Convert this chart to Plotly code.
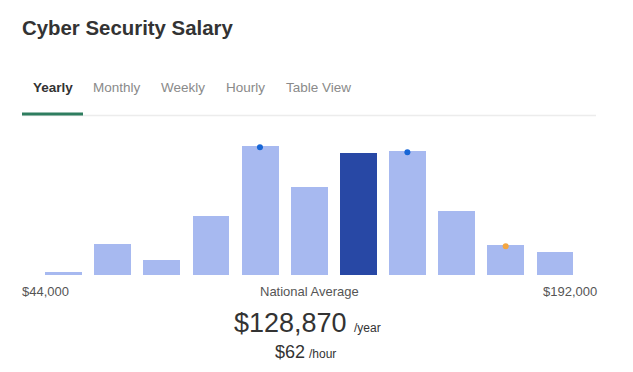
import plotly.graph_objects as go

# The page has an 8px body margin; figure sized to fit the remaining window
OFF = 8
W, H = 633 - 2 * OFF, 372 - 2 * OFF

# Data
bins = list(range(11))
counts = [3.3, 30.7, 14.7, 59, 129, 88.3, 121.7, 124, 63.7, 30, 23]
highlight_bin = 6
blue_dot_bins = [4, 7]
orange_dot_bins = [9]
min_label = "$44,000"
max_label = "$192,000"
avg_label = "National Average"
avg_year = "$128,870"
avg_hour = "$62"
tabs = ["Yearly", "Monthly", "Weekly", "Hourly", "Table View"]
tab_x = [33, 93, 161, 226, 286]

LIGHT = "#a7b9f0"
DARK = "#2848a5"
FONT = "Liberation Sans, Arial, sans-serif"

colors = [DARK if b == highlight_bin else LIGHT for b in bins]

fig = go.Figure()
fig.add_trace(go.Bar(x=bins, y=counts, marker=dict(color=colors, line=dict(width=0)),
                     width=0.75, hoverinfo="skip"))
fig.add_trace(go.Scatter(x=blue_dot_bins, y=[counts[b] - 1.2 for b in blue_dot_bins],
                         mode="markers", marker=dict(color="#1766d6", size=6),
                         hoverinfo="skip"))
fig.add_trace(go.Scatter(x=orange_dot_bins, y=[counts[b] - 1.2 for b in orange_dot_bins],
                         mode="markers", marker=dict(color="#f4a640", size=6),
                         hoverinfo="skip"))

def px(x):
    return (x - OFF) / W

def py(y):
    return 1 - (y - OFF) / H

x0, x1 = 38.8, 579.4
y_bottom, y_top = 275, 135
PAD = 2  # annotation inner padding

ann = []
ann.append(dict(x=px(22 - PAD), y=py(28), text="<b>Cyber Security Salary</b>", xanchor="left",
                yanchor="middle", font=dict(size=20.4, color="#333333", family=FONT)))
for i, (t, xx) in enumerate(zip(tabs, tab_x)):
    txt = f"<b>{t}</b>" if i == 0 else t
    ann.append(dict(x=px(xx - PAD), y=py(87), text=txt, xanchor="left", yanchor="middle",
                    font=dict(size=13.5, color="#333333" if i == 0 else "#8a8a8a", family=FONT)))
ann.append(dict(x=px(22 - PAD), y=py(291), text=min_label, xanchor="left", yanchor="middle",
                font=dict(size=13, color="#555555", family=FONT)))
ann.append(dict(x=px(309.5), y=py(291), text=avg_label, xanchor="center", yanchor="middle",
                font=dict(size=13, color="#555555", family=FONT)))
ann.append(dict(x=px(597 + PAD), y=py(291), text=max_label, xanchor="right", yanchor="middle",
                font=dict(size=13, color="#555555", family=FONT)))
ann.append(dict(x=px(234 - PAD), y=py(323), text=avg_year, xanchor="left", yanchor="middle",
                font=dict(size=27, color="#333333", family=FONT)))
ann.append(dict(x=px(354 - PAD), y=py(328), text="/year", xanchor="left", yanchor="middle",
                font=dict(size=12, color="#333333", family=FONT)))
ann.append(dict(x=px(275 - PAD), y=py(352), text=avg_hour, xanchor="left", yanchor="middle",
                font=dict(size=18, color="#333333", family=FONT)))
ann.append(dict(x=px(309 - PAD), y=py(354), text="/hour", xanchor="left", yanchor="middle",
                font=dict(size=12, color="#333333", family=FONT)))
for a in ann:
    a.update(xref="paper", yref="paper", showarrow=False)

shapes = [
    dict(type="line", xref="paper", yref="paper", x0=px(22), x1=px(596), y0=py(115.5), y1=py(115.5),
         line=dict(color="#ececec", width=1.5)),
    dict(type="line", xref="paper", yref="paper", x0=px(22), x1=px(83), y0=py(114), y1=py(114),
         line=dict(color="#2e7d5f", width=3)),
]

fig.update_layout(
    width=W, height=H,
    margin=dict(l=0, r=0, t=0, b=0),
    paper_bgcolor="white", plot_bgcolor="white",
    showlegend=False, bargap=0,
    xaxis=dict(domain=[px(x0), px(x1)], range=[-0.5, 10.5], visible=False, fixedrange=True),
    yaxis=dict(domain=[py(y_bottom), py(y_top)], range=[0, y_bottom - y_top], visible=False,
               fixedrange=True),
    annotations=ann, shapes=shapes,
)

fig.write_html("out.html", config={"displayModeBar": False})
